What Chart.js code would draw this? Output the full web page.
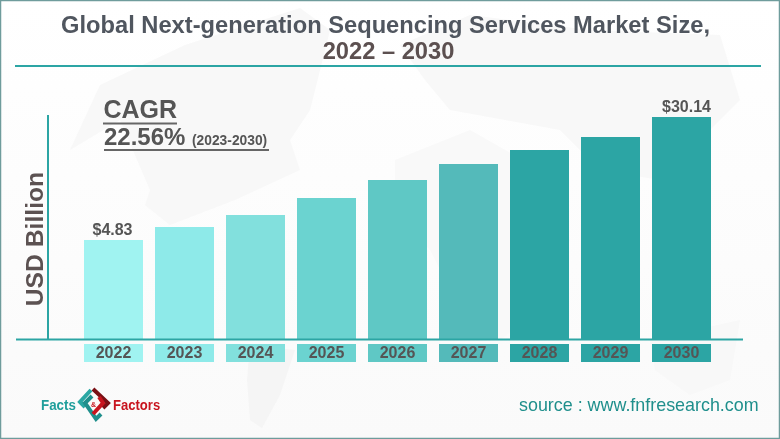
<!DOCTYPE html>
<html><head><meta charset="utf-8">
<style>html,body{margin:0;padding:0;background:#fff}#w{width:780px;height:439px;position:relative;overflow:hidden}canvas{display:block}</style>
<script src="https://cdn.jsdelivr.net/npm/chart.js@4"></script>
</head><body><div id="w"><canvas id="c" width="780" height="439"></canvas></div>
<script>
const categories=["2022","2023","2024","2025","2026","2027","2028","2029","2030"];
const values=[4.83,7.51,9.98,13.47,17.18,20.47,23.35,26.03,30.14];
const valueLabels=["$4.83","","","","","","","","$30.14"];
const barColors=["#a0f3f1","#8eeae9","#82e0dd","#6bd3d0","#5fc8c5","#54baba","#2ca5a4","#2ca5a4","#2ca5a4"];
const chartTitle=["Global Next-generation Sequencing Services Market Size,","2022 – 2030"];
const axisTitle="USD Billion";
const axisMin=-15.54, axisMax=40.84;
const FONT='"Liberation Sans", Arial, sans-serif';

function poly(ctx,pts,fill){ctx.beginPath();pts.forEach((p,i)=>i?ctx.lineTo(p[0],p[1]):ctx.moveTo(p[0],p[1]));ctx.closePath();ctx.fillStyle=fill;ctx.fill();}
function path(ctx,pts,col){ctx.strokeStyle=col;ctx.beginPath();pts.forEach((p,i)=>i?ctx.lineTo(p[0],p[1]):ctx.moveTo(p[0],p[1]));ctx.stroke();}

const backdrop={id:'backdrop',beforeDraw(chart){
  const ctx=chart.ctx,meta=chart.getDatasetMeta(0);ctx.save();
  const g=ctx.createLinearGradient(0,0,0,439);g.addColorStop(0,'#ffffff');g.addColorStop(1,'#fafafa');
  ctx.fillStyle=g;ctx.fillRect(0,0,780,439);
  const m='#f8f8f8';
  poly(ctx,[[70,150],[100,85],[185,45],[300,8],[330,30],[310,110],[290,140],[300,170],[235,200],[170,225],[145,205],[150,190],[120,120]],m);
  poly(ctx,[[250,345],[295,350],[280,395],[262,428],[250,420],[247,380]],'#f5f5f5');
  poly(ctx,[[400,45],[470,15],[590,30],[720,35],[740,100],[700,140],[660,180],[600,170],[560,130],[450,110],[425,80]],m);
  poly(ctx,[[395,160],[470,130],[540,170],[570,240],[550,300],[500,340],[455,300],[430,250],[395,210]],'#f9f9f9');
  poly(ctx,[[650,340],[740,320],[730,380],[690,395],[655,370]],m);
  // year tags under the axis, one per bar
  meta.data.forEach((b,i)=>{const w=b.width;ctx.fillStyle=barColors[i];ctx.fillRect(b.x-w/2,344,w,18);});
  ctx.restore();
}};

const decor={id:'decor',
 afterDraw(chart){
  const ctx=chart.ctx,meta=chart.getDatasetMeta(0);
  ctx.save();
  // title
  ctx.textBaseline='alphabetic';ctx.textAlign='center';
  ctx.font='bold 23.7px '+FONT;
  ctx.fillStyle='#50565f';ctx.fillText(chartTitle[0],385.5,33);
  ctx.fillStyle='#5c5050';ctx.fillText(chartTitle[1],388.5,59);
  // rules
  ctx.fillStyle='#2ca5a4';
  ctx.fillRect(15,65,746,2);
  ctx.fillRect(47,115,2,224);
  ctx.fillRect(16,338.5,727,2);
  // frame
  ctx.strokeStyle='#6f9c9c';ctx.lineWidth=1.5;ctx.strokeRect(.5,.5,779,438);
  // y-axis title
  ctx.save();ctx.translate(43,239);ctx.rotate(-Math.PI/2);
  ctx.fillStyle='#5c5252';ctx.font='bold 24.7px '+FONT;ctx.fillText(axisTitle,0,0);ctx.restore();
  // value labels
  ctx.fillStyle='#555555';ctx.font='bold 16px '+FONT;
  meta.data.forEach((b,i)=>{if(valueLabels[i])ctx.fillText(valueLabels[i],b.x+(i?5:-1),b.y-5.5);});
  // CAGR note
  ctx.textAlign='left';ctx.fillStyle='#555555';
  ctx.font='bold 25px '+FONT;ctx.fillText('CAGR',103.5,118);
  ctx.font='bold 24px '+FONT;ctx.fillText('22.56%',104,145);
  ctx.font='bold 13.8px '+FONT;ctx.fillText('(2023-2030)',192,144.5);
  ctx.fillStyle='#666666';ctx.fillRect(103,122.5,74,2);ctx.fillRect(104,149,165,2);
  // source
  ctx.fillStyle='#1f8f8c';ctx.font='17.9px '+FONT;ctx.fillText('source : www.fnfresearch.com',519,411);
  // logo
  ctx.font='bold 15px '+FONT;
  ctx.save();ctx.translate(41,409.5);ctx.scale(.89,1);ctx.fillStyle='#1f9e9b';ctx.fillText('Facts',0,0);ctx.restore();
  ctx.save();ctx.translate(113,409.5);ctx.scale(.87,1);ctx.fillStyle='#c8141e';ctx.fillText('Factors',0,0);ctx.restore();
  ctx.lineWidth=4;ctx.lineJoin='miter';
  path(ctx,[[91,390],[80,402],[85,407]],'#2aa7a3');
  path(ctx,[[92,396],[85,403],[96,419],[101,414]],'#1f8f8c');
  path(ctx,[[93,389],[108,403],[103,408]],'#7a1015');
  path(ctx,[[99,397],[103,403],[93,414]],'#c8141e');
  ctx.fillStyle='#c8141e';ctx.font='bold 7px '+FONT;ctx.fillText('&',91,407);
  ctx.restore();
 }};

new Chart(document.getElementById('c'),{
 type:'bar',
 data:{labels:categories,datasets:[{data:values,backgroundColor:barColors,base:axisMin,
   categoryPercentage:1,barPercentage:59/71,borderWidth:0}]},
 options:{responsive:false,animation:false,devicePixelRatio:1,
  layout:{padding:{top:65,right:63,left:0,bottom:0}},
  plugins:{legend:{display:false},tooltip:{enabled:false},title:{display:false}},
  scales:{
   x:{grid:{display:false},border:{display:false},
      afterFit(s){s.height=100;},
      ticks:{color:'#555555',font:{family:FONT,size:16,weight:'bold'},padding:-3,maxRotation:0,autoSkip:false}},
   y:{min:axisMin,max:axisMax,grid:{display:false},border:{display:false},
      afterFit(s){s.width=78;},
      ticks:{display:false}}
  }
 },
 plugins:[backdrop,decor]
});
</script></body></html>
